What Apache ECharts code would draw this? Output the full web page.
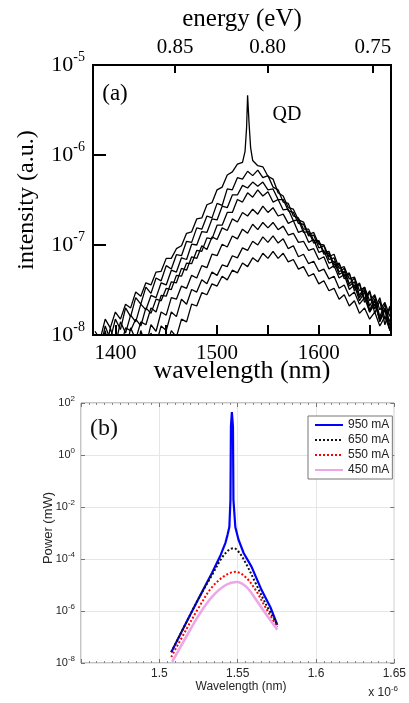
<!DOCTYPE html>
<html><head><meta charset="utf-8">
<script src="https://cdn.jsdelivr.net/npm/echarts@6.0.0/dist/echarts.min.js"></script>
<style>html,body{margin:0;padding:0;background:#fff}#c{width:409px;height:703px}</style>
</head><body><div id="c"></div>
<script>
// ---------- Panel (a) data: wavelength (nm) and intensity (a.u.) ----------
const wavelengthA = [1380,1385,1390,1395,1400,1405,1410,1415,1420,1425,1430,1435,1440,1445,1450,1455,1460,1465,1470,1475,1480,1485,1490,1495,1500,1505,1510,1515,1520,1525,1530,1535,1540,1545,1550,1555,1560,1565,1570,1575,1580,1585,1590,1595,1600,1605,1610,1615,1620,1625,1630,1635,1640,1645,1650,1655,1660,1665,1670];
const intensity1 = [1.1e-8,8.9e-9,1.5e-8,1.2e-8,1.8e-8,1.5e-8,2.2e-8,2.0e-8,3.0e-8,2.7e-8,3.8e-8,3.6e-8,5.0e-8,5.1e-8,7.1e-8,7.1e-8,9.1e-8,9.8e-8,1.35e-7,1.4e-7,1.95e-7,2.0e-7,2.8e-7,2.95e-7,4.1e-7,4.4e-7,6.0e-7,6.5e-7,7.9e-7,8.3e-7,4.6e-6,8.7e-7,7.6e-7,7.4e-7,5.8e-7,5.4e-7,3.8e-7,3.5e-7,2.6e-7,2.5e-7,1.9e-7,1.8e-7,1.3e-7,1.38e-7,1.02e-7,1.0e-7,7.4e-8,7.9e-8,5.5e-8,5.75e-8,4.2e-8,4.4e-8,3.1e-8,3.4e-8,2.4e-8,2.8e-8,1.9e-8,2.3e-8,1.6e-8];
const qdPeakWl  = [1527.5, 1529, 1531.5, 1533];
const qdPeakVal = [1.1e-6, 2.0e-6, 2.2e-6, 1.2e-6];
const intensity2 = [1.0e-8,6.8e-9,1.26e-8,8.9e-9,1.5e-8,1.15e-8,2.0e-8,1.6e-8,2.6e-8,2.2e-8,3.4e-8,2.9e-8,4.3e-8,4.0e-8,5.9e-8,5.4e-8,7.8e-8,7.6e-8,1.1e-7,1.07e-7,1.55e-7,1.5e-7,2.1e-7,2.0e-7,2.9e-7,2.75e-7,4.2e-7,4.1e-7,5.6e-7,5.4e-7,6.6e-7,5.9e-7,6.8e-7,5.6e-7,5.9e-7,4.4e-7,4.1e-7,3.0e-7,2.9e-7,2.1e-7,2.0e-7,1.5e-7,1.5e-7,1.12e-7,1.12e-7,8.3e-8,8.5e-8,6.0e-8,6.3e-8,4.5e-8,4.9e-8,3.3e-8,3.8e-8,2.5e-8,3.1e-8,1.95e-8,2.6e-8,1.5e-8,2.1e-8];
const intensity3 = [5.6e-9,1.0e-8,6.3e-9,1.2e-8,7.6e-9,1.4e-8,1.05e-8,1.66e-8,1.4e-8,2.2e-8,1.9e-8,2.75e-8,2.6e-8,3.8e-8,3.6e-8,5.25e-8,5.0e-8,7.2e-8,6.9e-8,1.02e-7,1.0e-7,1.41e-7,1.38e-7,1.95e-7,1.9e-7,2.7e-7,2.6e-7,3.6e-7,3.6e-7,4.6e-7,4.3e-7,5.0e-7,4.5e-7,5.0e-7,4.1e-7,4.2e-7,3.2e-7,3.2e-7,2.4e-7,2.3e-7,1.74e-7,1.7e-7,1.26e-7,1.29e-7,9.3e-8,9.8e-8,6.9e-8,7.2e-8,5.0e-8,5.5e-8,3.7e-8,4.3e-8,2.75e-8,3.4e-8,2.1e-8,2.7e-8,1.6e-8,2.2e-8,1.26e-8];
const intensity4 = [7.9e-9,5.0e-9,1.12e-8,5.6e-9,1.0e-8,7.1e-9,1.2e-8,1.12e-8,1.5e-8,1.26e-8,2.0e-8,1.74e-8,2.5e-8,2.4e-8,3.3e-8,3.2e-8,4.6e-8,4.5e-8,6.3e-8,6.2e-8,8.7e-8,8.5e-8,1.2e-7,1.17e-7,1.66e-7,1.66e-7,2.3e-7,2.3e-7,3.2e-7,3.0e-7,3.8e-7,3.4e-7,4.1e-7,3.5e-7,3.9e-7,3.0e-7,3.2e-7,2.45e-7,2.5e-7,1.86e-7,1.9e-7,1.38e-7,1.41e-7,1.05e-7,1.1e-7,7.9e-8,8.1e-8,5.6e-8,6.2e-8,4.2e-8,4.8e-8,3.1e-8,3.7e-8,2.3e-8,3.0e-8,1.74e-8,2.4e-8,1.3e-8,2.0e-8];
const intensity5 = [4.0e-9,6.3e-9,3.5e-9,7.9e-9,5.0e-9,8.9e-9,6.3e-9,1.2e-8,8.9e-9,1.4e-8,1.3e-8,2.0e-8,1.8e-8,2.75e-8,2.7e-8,3.9e-8,3.8e-8,5.5e-8,5.25e-8,7.4e-8,7.1e-8,9.8e-8,8.9e-8,1.23e-7,1.15e-7,1.55e-7,1.45e-7,1.95e-7,1.8e-7,2.3e-7,2.1e-7,2.5e-7,2.2e-7,2.7e-7,2.3e-7,2.6e-7,2.1e-7,2.2e-7,1.74e-7,1.86e-7,1.38e-7,1.45e-7,1.07e-7,1.15e-7,8.3e-8,8.7e-8,6.3e-8,6.6e-8,4.7e-8,5.1e-8,3.5e-8,3.9e-8,2.6e-8,3.2e-8,1.9e-8,2.5e-8,1.45e-8,2.0e-8,1.12e-8];
const intensity6 = [2.5e-9,4.0e-9,2.5e-9,5.0e-9,3.2e-9,6.3e-9,4.5e-9,7.9e-9,5.6e-9,1.12e-8,7.6e-9,1.3e-8,1.1e-8,1.8e-8,1.66e-8,2.6e-8,2.5e-8,3.5e-8,3.3e-8,4.6e-8,4.3e-8,5.9e-8,5.6e-8,7.9e-8,7.6e-8,1.02e-7,9.5e-8,1.26e-7,1.17e-7,1.5e-7,1.35e-7,1.7e-7,1.48e-7,1.78e-7,1.55e-7,1.78e-7,1.48e-7,1.62e-7,1.29e-7,1.35e-7,1.07e-7,1.1e-7,8.7e-8,9.1e-8,6.9e-8,7.4e-8,5.4e-8,5.9e-8,4.3e-8,4.7e-8,3.2e-8,3.6e-8,2.4e-8,3.0e-8,1.8e-8,2.4e-8,1.4e-8,1.9e-8,1.12e-8];
const intensity7 = [2.0e-9,3.2e-9,2.0e-9,3.5e-9,2.5e-9,4.5e-9,3.2e-9,6.3e-9,4.0e-9,7.9e-9,5.6e-9,1.05e-8,7.9e-9,1.26e-8,1.12e-8,1.8e-8,1.6e-8,2.5e-8,2.2e-8,3.2e-8,3.0e-8,4.1e-8,3.7e-8,5.0e-8,4.6e-8,6.0e-8,5.75e-8,7.6e-8,7.2e-8,9.3e-8,8.7e-8,1.1e-7,1.0e-7,1.23e-7,1.07e-7,1.26e-7,1.05e-7,1.17e-7,9.1e-8,9.8e-8,7.4e-8,7.9e-8,6.2e-8,6.6e-8,5.1e-8,5.4e-8,4.2e-8,4.5e-8,3.3e-8,3.6e-8,2.7e-8,3.0e-8,2.2e-8,2.6e-8,1.8e-8,2.2e-8,1.5e-8,1.95e-8,1.4e-8];
const intensity8 = [1.6e-9,2.5e-9,1.6e-9,2.8e-9,2.0e-9,3.2e-9,2.2e-9,4.0e-9,2.8e-9,5.0e-9,3.5e-9,6.3e-9,5.0e-9,8.3e-9,7.1e-9,1.12e-8,9.5e-9,1.5e-8,1.4e-8,2.2e-8,2.1e-8,2.95e-8,2.8e-8,3.7e-8,3.5e-8,4.5e-8,4.1e-8,5.25e-8,4.9e-8,6.3e-8,5.75e-8,7.2e-8,6.5e-8,8.1e-8,7.1e-8,8.5e-8,7.1e-8,8.1e-8,6.5e-8,6.9e-8,5.4e-8,5.75e-8,4.5e-8,4.8e-8,3.7e-8,4.0e-8,3.1e-8,3.3e-8,2.5e-8,2.8e-8,2.1e-8,2.4e-8,1.74e-8,2.0e-8,1.5e-8,1.8e-8,1.26e-8,1.6e-8,1.12e-8];
const wlTicksA = [1400,1450,1500,1550,1600,1650];
const wlLabelsA = [1400,1500,1600];
const energyTicks = [0.85, 0.80, 0.75];   // eV

// ---------- Panel (b) data: wavelength (x 1e-6 m) and power (mW) ----------
const wl950 = [1.5076,1.5171,1.5253,1.5336,1.5391,1.5422,1.5435,1.5447,1.5454,1.5457,1.5463,1.5470,1.5473,1.5485,1.5506,1.5538,1.5589,1.5652,1.5709,1.5753];
const p950  = [2.6e-8,3.5e-7,3.2e-6,2.9e-5,1.4e-4,4.2e-4,8.3e-4,1.7e-3,1.9e-2,12,45,12,1.9e-2,1.7e-3,5.4e-4,1.7e-4,5.0e-5,6.5e-6,1.4e-6,2.9e-7];
const wl650 = [1.5076,1.5171,1.5253,1.5336,1.5399,1.5443,1.5475,1.5506,1.5551,1.5614,1.5677,1.5753];
const p650  = [2.6e-8,3.5e-7,3.2e-6,2.4e-5,1.1e-4,2.2e-4,2.6e-4,1.9e-4,7.1e-5,1.2e-5,2.0e-6,2.9e-7];
const wl550 = [1.5076,1.5171,1.5253,1.5336,1.5424,1.5487,1.5551,1.5614,1.5677,1.5753];
const p550  = [1.7e-8,1.9e-7,1.4e-6,8.3e-6,2.4e-5,3.2e-5,2.0e-5,6.5e-6,1.4e-6,2.4e-7];
const wl450 = [1.5082,1.5171,1.5253,1.5336,1.5424,1.5494,1.5557,1.5620,1.5684,1.5753];
const p450  = [1.1e-8,1.0e-7,7.1e-7,3.5e-6,1.0e-5,1.3e-5,8.3e-6,2.6e-6,7.1e-7,1.9e-7];
const legendNames = ['950 mA','650 mA','550 mA','450 mA'];

// ---------- build ----------
const SERIF = '"Liberation Serif","Times New Roman",serif';
const SANS = '"Liberation Sans",Arial,Helvetica,sans-serif';
const pairs = (xs, ys) => xs.map((x, i) => [x, ys[i]]);
const curve1 = pairs(wavelengthA, intensity1).concat(pairs(qdPeakWl, qdPeakVal)).sort((a, b) => a[0] - b[0]);
const curvesA = [curve1, pairs(wavelengthA, intensity2), pairs(wavelengthA, intensity3), pairs(wavelengthA, intensity4),
  pairs(wavelengthA, intensity5), pairs(wavelengthA, intensity6), pairs(wavelengthA, intensity7), pairs(wavelengthA, intensity8)];
const energyWl = energyTicks.map(e => 1239.84 / e);

const supA = v => '{b|10}{s|' + Math.round(Math.log10(v)) + '}';
const gridA = {left: 93, top: 65, width: 298, height: 270};
const gridB = {left: 81, top: 403, width: 317, height: 260};

const series = [];
curvesA.forEach((d, i) => series.push({
  type: 'line', name: 'a' + (i + 1), xAxisIndex: 0, yAxisIndex: 0, data: d,
  symbol: 'none', showSymbol: false, silent: true, animation: false, clip: true,
  lineStyle: {color: '#000', width: 1.3}
}));
const bDefs = [
  {name: legendNames[0], x: wl950, y: p950, color: '#0000ff', width: 2.2, type: 'solid', smooth: false},
  {name: legendNames[1], x: wl650, y: p650, color: '#111111', width: 2, type: 'dotted', smooth: 0.35},
  {name: legendNames[2], x: wl550, y: p550, color: '#ff0000', width: 2, type: 'dotted', smooth: 0.35},
  {name: legendNames[3], x: wl450, y: p450, color: '#eea6ea', width: 2.6, type: 'solid', smooth: 0.35}
];
bDefs.forEach(s => series.push({
  type: 'line', name: s.name, xAxisIndex: 2, yAxisIndex: 1, data: pairs(s.x, s.y),
  symbol: 'none', showSymbol: false, smooth: s.smooth, animation: false, clip: true,
  itemStyle: {color: s.color},
  lineStyle: {color: s.color, width: s.width, type: s.type}
}));

const option = {
  animation: false,
  backgroundColor: '#fff',
  grid: [
    Object.assign({show: true, borderColor: '#000', borderWidth: 2, backgroundColor: 'transparent'}, gridA),
    Object.assign({show: true, borderColor: '#8a8a8a', borderWidth: 1, backgroundColor: 'transparent'}, gridB)
  ],
  xAxis: [
    { type: 'value', gridIndex: 0, position: 'bottom', min: 1378, max: 1671,
      axisLine: {show: false}, splitLine: {show: false},
      axisTick: {show: true, inside: true, length: 10, customValues: wlTicksA, lineStyle: {color: '#000', width: 2}},
      axisLabel: {show: true, customValues: wlLabelsA, margin: 8, fontSize: 21, fontFamily: SERIF, color: '#000',
        formatter: v => String(Math.round(v))} },
    { type: 'value', gridIndex: 0, position: 'top', min: 1378, max: 1671,
      axisLine: {show: false}, splitLine: {show: false},
      axisTick: {show: true, inside: true, length: 8, customValues: energyWl, lineStyle: {color: '#000', width: 2}},
      axisLabel: {show: true, customValues: energyWl, margin: 7, fontSize: 21, fontFamily: SERIF, color: '#000',
        formatter: v => (1239.84 / v).toFixed(2)} },
    { type: 'value', gridIndex: 1, position: 'bottom', min: 1.45, max: 1.65, interval: 0.05,
      axisLine: {show: false},
      splitLine: {show: true, lineStyle: {color: '#e6e6e6', width: 1}},
      axisTick: {show: true, inside: true, length: 4, lineStyle: {color: '#777'}},
      minorTick: {show: true, splitNumber: 10, length: 2, lineStyle: {color: '#888'}},
      axisLabel: {show: true, showMinLabel: false, margin: 5, fontSize: 12, fontFamily: SANS, color: '#262626',
        formatter: v => String(Number(v.toFixed(2)))} },
    { type: 'value', gridIndex: 1, position: 'top', min: 1.45, max: 1.65, interval: 0.05,
      axisLine: {show: false}, splitLine: {show: false}, axisLabel: {show: false},
      axisTick: {show: true, inside: true, length: 4, lineStyle: {color: '#777'}},
      minorTick: {show: true, splitNumber: 10, length: 2, lineStyle: {color: '#888'}} }
  ],
  yAxis: [
    { type: 'log', logBase: 10, gridIndex: 0, min: 1e-8, max: 1e-5,
      axisLine: {show: false}, splitLine: {show: false},
      axisTick: {show: true, inside: true, length: 13, lineStyle: {color: '#000', width: 2}},
      axisLabel: {show: true, margin: 8, formatter: supA,
        rich: {b: {fontSize: 22, fontFamily: SERIF, color: '#000', lineHeight: 30},
               s: {fontSize: 14, fontFamily: SERIF, color: '#000', verticalAlign: 'top', lineHeight: 14}}} },
    { type: 'log', logBase: 10, gridIndex: 1, min: 1e-8, max: 1e2, interval: 2,
      axisLine: {show: false},
      splitLine: {show: true, lineStyle: {color: '#e6e6e6', width: 1}},
      axisTick: {show: true, inside: true, length: 4, lineStyle: {color: '#777'}},
      axisLabel: {show: true, margin: 6, formatter: supA,
        rich: {b: {fontSize: 11, fontFamily: SANS, color: '#262626', lineHeight: 16},
               s: {fontSize: 8, fontFamily: SANS, color: '#262626', verticalAlign: 'top', lineHeight: 8}}} },
    { type: 'log', logBase: 10, gridIndex: 1, position: 'right', min: 1e-8, max: 1e2, interval: 2,
      axisLine: {show: false}, splitLine: {show: false}, axisLabel: {show: false},
      axisTick: {show: true, inside: true, length: 4, lineStyle: {color: '#777'}} }
  ],
  legend: {
    data: legendNames, orient: 'vertical', left: 308, top: 416,
    itemWidth: 28, itemHeight: 12, itemGap: 3, padding: [3, 3, 3, 6],
    borderColor: '#777', borderWidth: 1, backgroundColor: '#fff', borderRadius: 0,
    itemStyle: {opacity: 0},
    textStyle: {fontSize: 12, fontFamily: SANS, color: '#222'},
    selectedMode: false
  },
  graphic: [
    {type: 'text', x: 242, y: 19, silent: true, style: {text: 'energy (eV)', font: '25px ' + SERIF, fill: '#000', textAlign: 'center', textVerticalAlign: 'middle'}},
    {type: 'text', x: 27, y: 200, rotation: Math.PI / 2, silent: true, style: {text: 'intensity (a.u.)', font: '24px ' + SERIF, fill: '#000', textAlign: 'center', textVerticalAlign: 'middle'}},
    {type: 'text', x: 242, y: 371, silent: true, style: {text: 'wavelength (nm)', font: '26px ' + SERIF, fill: '#000', textAlign: 'center', textVerticalAlign: 'middle'}},
    {type: 'text', x: 115, y: 94, silent: true, style: {text: '(a)', font: '23px ' + SERIF, fill: '#000', textAlign: 'center', textVerticalAlign: 'middle'}},
    {type: 'text', x: 287, y: 115, silent: true, style: {text: 'QD', font: '20px ' + SERIF, fill: '#000', textAlign: 'center', textVerticalAlign: 'middle'}},
    {type: 'text', x: 104, y: 429, silent: true, style: {text: '(b)', font: '24px ' + SERIF, fill: '#111', textAlign: 'center', textVerticalAlign: 'middle'}},
    {type: 'text', x: 48, y: 528, rotation: Math.PI / 2, silent: true, style: {text: 'Power (mW)', font: '13px ' + SANS, fill: '#262626', textAlign: 'center', textVerticalAlign: 'middle'}},
    {type: 'text', x: 241, y: 687, silent: true, style: {text: 'Wavelength (nm)', font: '12px ' + SANS, fill: '#262626', textAlign: 'center', textVerticalAlign: 'middle'}},
    {type: 'text', x: 398, y: 693, silent: true, style: {text: '{a|x 10}{s|-6}', fill: '#262626', textAlign: 'right', textVerticalAlign: 'middle',
      rich: {a: {fontSize: 12, fontFamily: SANS, fill: '#262626', color: '#262626', lineHeight: 16},
             s: {fontSize: 8, fontFamily: SANS, fill: '#262626', color: '#262626', verticalAlign: 'top', lineHeight: 8}}}}
  ],
  series: series
};
const chart = echarts.init(document.getElementById('c'), null, {renderer: 'canvas'});
chart.setOption(option);
</script></body></html>
